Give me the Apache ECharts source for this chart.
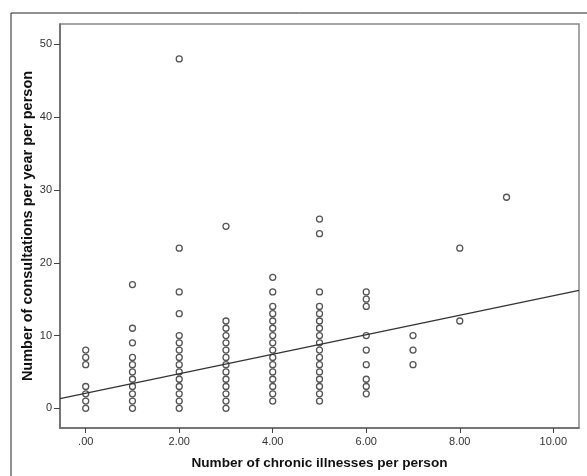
<!DOCTYPE html>
<html>
<head>
<meta charset="utf-8">
<script src="https://cdn.jsdelivr.net/npm/echarts@6/dist/echarts.min.js"></script>
<style>
html,body{margin:0;padding:0;background:#fff;}
#chart{width:587px;height:476px;}
</style>
</head>
<body>
<div id="chart"></div>
<script>
// Number of chronic illnesses per person (x categories)
const illnessCounts = [0, 1, 2, 3, 4, 5, 6, 7, 8, 9];
// Consultations per year observed at each illness count
const consultsAt0 = [0, 1, 2, 3, 6, 7, 8];
const consultsAt1 = [0, 1, 2, 3, 4, 5, 6, 7, 9, 11, 17];
const consultsAt2 = [0, 1, 2, 3, 4, 5, 6, 7, 8, 9, 10, 13, 16, 22, 48];
const consultsAt3 = [0, 1, 2, 3, 4, 5, 6, 7, 8, 9, 10, 11, 12, 25];
const consultsAt4 = [1, 2, 3, 4, 5, 6, 7, 8, 9, 10, 11, 12, 13, 14, 16, 18];
const consultsAt5 = [1, 2, 3, 4, 5, 6, 7, 8, 9, 10, 11, 12, 13, 14, 16, 24, 26];
const consultsAt6 = [2, 3, 4, 6, 8, 10, 14, 15, 16];
const consultsAt7 = [6, 8, 10];
const consultsAt8 = [12, 22];
const consultsAt9 = [29];
const consultations = [consultsAt0, consultsAt1, consultsAt2, consultsAt3, consultsAt4,
  consultsAt5, consultsAt6, consultsAt7, consultsAt8, consultsAt9];

// Fit line
const fitIntercept = 2.07;
const fitSlope = 1.34;

// Axis ticks
const xTicks = [0, 2, 4, 6, 8, 10];
const yTicks = [0, 10, 20, 30, 40, 50];
const xRange = [-0.55, 10.55];
const yRange = [-2.7, 52.8];

const points = [];
illnessCounts.forEach((x, i) => consultations[i].forEach(y => points.push([x, y])));
const fitData = xRange.map(x => [x, fitIntercept + fitSlope * x]);

const chart = echarts.init(document.getElementById('chart'), null, {renderer: 'canvas'});
const axisFont = 'Arial, "Liberation Sans", sans-serif';
chart.setOption({
  animation: false,
  backgroundColor: '#fff',
  graphic: [{
    type: 'rect', silent: true, z: -1,
    shape: {x: 11, y: 13, width: 700, height: 600},
    style: {fill: 'none', stroke: '#222', lineWidth: 1}
  }],
  grid: {left: 60, top: 24, right: 8, bottom: 48, show: true, borderColor: '#888', borderWidth: 1.5, backgroundColor: '#fff'},
  xAxis: {
    type: 'value', min: xRange[0], max: xRange[1],
    name: 'Number of chronic illnesses per person',
    nameLocation: 'middle', nameGap: 28,
    nameTextStyle: {fontFamily: axisFont, fontWeight: 'bold', fontSize: 13.6, color: '#111'},
    axisLine: {show: true, onZero: false, lineStyle: {color: '#666', width: 1.5}},
    axisTick: {show: true, length: 5, customValues: xTicks, lineStyle: {color: '#444'}},
    axisLabel: {customValues: xTicks, margin: 8, fontFamily: axisFont, fontSize: 11, color: '#333',
      formatter: v => v === 0 ? '.00' : v.toFixed(2)},
    splitLine: {show: false}
  },
  yAxis: {
    type: 'value', min: yRange[0], max: yRange[1],
    name: 'Number of consultations per year per person',
    nameLocation: 'middle', nameGap: 25, nameMoveOverlap: false,
    nameTextStyle: {fontFamily: axisFont, fontWeight: 'bold', fontSize: 14.5, color: '#111'},
    axisLine: {show: true, onZero: false, lineStyle: {color: '#666', width: 1.5}},
    axisTick: {show: true, length: 6, customValues: yTicks, lineStyle: {color: '#444'}},
    axisLabel: {customValues: yTicks, margin: 8, fontFamily: axisFont, fontSize: 11, color: '#333'},
    splitLine: {show: false}
  },
  series: [{
    type: 'scatter', data: points, symbol: 'circle', symbolSize: 6,
    itemStyle: {color: 'rgba(0,0,0,0)', borderColor: '#2a2a2a', borderWidth: 1.3}
  }, {
    type: 'line', data: fitData, showSymbol: false, symbol: 'none',
    lineStyle: {color: '#333', width: 1.2}, clip: true, z: 3
  }]
});
</script>
</body>
</html>
